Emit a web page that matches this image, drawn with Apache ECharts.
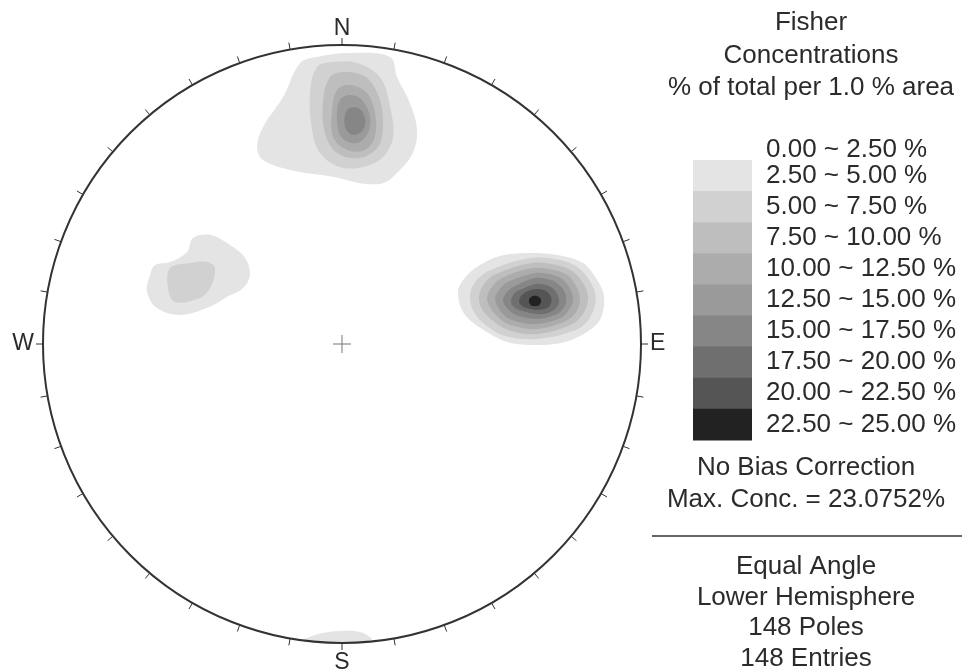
<!DOCTYPE html>
<html>
<head>
<meta charset="utf-8">
<script src="https://cdn.jsdelivr.net/npm/echarts@6/dist/echarts.min.js"></script>
<style>
  html, body { margin: 0; padding: 0; background: #ffffff; }
  #chart { width: 962px; height: 670px; }
</style>
</head>
<body>
<div id="chart"></div>
<script>
// Contour classes: % of total per 1.0 % area
const levelLabels = [
  '0.00 ~ 2.50 %', '2.50 ~ 5.00 %', '5.00 ~ 7.50 %', '7.50 ~ 10.00 %',
  '10.00 ~ 12.50 %', '12.50 ~ 15.00 %', '15.00 ~ 17.50 %', '17.50 ~ 20.00 %',
  '20.00 ~ 22.50 %', '22.50 ~ 25.00 %'
];
const levelColors = [
  '#ffffff', '#e4e4e4', '#d1d1d1', '#bebebe', '#acacac',
  '#9a9a9a', '#868686', '#6f6f6f', '#555555', '#222222'
];

// Compass labels on the primitive circle (azimuth in degrees)
const compassLabels = { 0: 'N', 90: 'E', 180: 'S', 270: 'W' };

// Contoured pole concentrations, stereonet units (x east, y north, primitive radius = 1)
const northCluster = [
  { level: 1, pts: [[-0.140,0.940],[-0.197,0.826],[-0.264,0.726],[-0.284,0.659],[-0.264,0.615],[-0.174,0.582],[-0.030,0.559],[0.060,0.538],[0.137,0.538],[0.184,0.572],[0.237,0.639],[0.251,0.716],[0.227,0.806],[0.184,0.893],[0.161,0.960],[0.027,0.973],[-0.084,0.960]] },
  { level: 2, pts: [[-0.084,0.926],[-0.107,0.839],[-0.100,0.716],[-0.074,0.639],[-0.007,0.592],[0.070,0.592],[0.137,0.625],[0.171,0.692],[0.161,0.793],[0.127,0.893],[0.050,0.940],[-0.030,0.943]] },
  { level: 3, pts: [[-0.040,0.893],[-0.064,0.806],[-0.057,0.706],[-0.017,0.639],[0.060,0.622],[0.120,0.659],[0.137,0.726],[0.127,0.816],[0.084,0.890],[0.017,0.910]] },
  { level: 4, pts: [[-0.017,0.849],[-0.033,0.783],[-0.030,0.692],[0.017,0.649],[0.077,0.649],[0.110,0.692],[0.110,0.773],[0.084,0.839],[0.027,0.866]] },
  { level: 5, pts: [[-0.007,0.816],[-0.017,0.749],[0.000,0.689],[0.050,0.672],[0.087,0.706],[0.094,0.759],[0.067,0.816],[0.027,0.833]] },
  { level: 6, pts: [[0.017,0.783],[0.010,0.726],[0.037,0.699],[0.070,0.716],[0.077,0.756],[0.054,0.789]] }
];

const westCluster = [
  { level: 1, pts: [[-0.642,0.231],[-0.652,0.174],[-0.619,0.120],[-0.542,0.097],[-0.452,0.120],[-0.385,0.157],[-0.331,0.187],[-0.308,0.231],[-0.324,0.288],[-0.375,0.331],[-0.441,0.365],[-0.498,0.355],[-0.518,0.308],[-0.575,0.274],[-0.625,0.264]] },
  { level: 2, pts: [[-0.575,0.254],[-0.582,0.187],[-0.559,0.140],[-0.475,0.154],[-0.441,0.187],[-0.425,0.254],[-0.452,0.274],[-0.508,0.271]] }
];

const eastCluster = [
  { level: 1, pts: [[0.388,0.174],[0.405,0.214],[0.452,0.258],[0.528,0.294],[0.619,0.304],[0.719,0.298],[0.806,0.271],[0.853,0.214],[0.876,0.161],[0.866,0.087],[0.823,0.043],[0.746,0.007],[0.652,-0.003],[0.552,0.007],[0.462,0.054],[0.405,0.107]] },
  { level: 2, pts: [[0.428,0.164],[0.448,0.211],[0.495,0.247],[0.629,0.288],[0.729,0.281],[0.786,0.258],[0.829,0.211],[0.849,0.154],[0.829,0.087],[0.783,0.047],[0.652,0.017],[0.545,0.027],[0.485,0.060],[0.441,0.107]] },
  { level: 3, pts: [[0.458,0.157],[0.475,0.201],[0.515,0.234],[0.635,0.271],[0.716,0.264],[0.769,0.244],[0.806,0.204],[0.823,0.154],[0.806,0.100],[0.766,0.064],[0.652,0.033],[0.555,0.047],[0.502,0.080],[0.468,0.117]] },
  { level: 4, pts: [[0.485,0.154],[0.502,0.191],[0.535,0.221],[0.639,0.254],[0.712,0.247],[0.753,0.231],[0.783,0.194],[0.796,0.151],[0.783,0.107],[0.749,0.077],[0.652,0.050],[0.562,0.064],[0.518,0.094],[0.495,0.124]] },
  { level: 5, pts: [[0.512,0.151],[0.528,0.184],[0.555,0.207],[0.642,0.237],[0.706,0.231],[0.736,0.217],[0.763,0.184],[0.773,0.147],[0.759,0.114],[0.732,0.087],[0.652,0.067],[0.569,0.080],[0.532,0.107]] },
  { level: 6, pts: [[0.538,0.147],[0.555,0.177],[0.579,0.194],[0.645,0.221],[0.699,0.214],[0.726,0.197],[0.746,0.171],[0.749,0.140],[0.736,0.114],[0.712,0.097],[0.652,0.084],[0.582,0.097],[0.552,0.120]] },
  { level: 7, pts: [[0.565,0.144],[0.579,0.171],[0.602,0.184],[0.649,0.201],[0.692,0.194],[0.716,0.174],[0.726,0.140],[0.712,0.117],[0.689,0.104],[0.652,0.100],[0.605,0.110],[0.575,0.124]] },
  { level: 8, pts: [[0.592,0.144],[0.602,0.164],[0.622,0.177],[0.652,0.184],[0.682,0.177],[0.699,0.157],[0.699,0.137],[0.686,0.120],[0.652,0.114],[0.619,0.120],[0.599,0.130]] },
  { level: 9, pts: [[0.625,0.144],[0.632,0.157],[0.645,0.161],[0.659,0.157],[0.666,0.144],[0.659,0.130],[0.645,0.127],[0.632,0.130]] }
];

const southCluster = [
  { level: 1, pts: [[-0.130,-0.993],[-0.080,-0.970],[-0.007,-0.960],[0.060,-0.963],[0.100,-0.987],[0.060,-0.997],[0.000,-1.000],[-0.067,-0.997]] }
];

// Text blocks beside the net
const titleLines = ['Fisher', 'Concentrations', '% of total per 1.0 % area'];
const noteLines = ['No Bias Correction', 'Max. Conc. = 23.0752%'];
const projectionLines = ['Equal Angle', 'Lower Hemisphere', '148 Poles', '148 Entries'];

const FONT = '"Liberation Sans", Arial, Helvetica, sans-serif';
const TEXT_COLOR = '#2b2b2b';
const FONT_SIZE = 26;

// Draw lower classes first so higher ones sit on top
const contours = [].concat(northCluster, westCluster, eastCluster, southCluster)
  .sort((a, b) => a.level - b.level);

const chart = echarts.init(document.getElementById('chart'), null, { renderer: 'canvas' });

function textEl(text, x, y, align) {
  return {
    type: 'text', x: x, y: y, silent: true,
    style: {
      text: text, fill: TEXT_COLOR, font: FONT_SIZE + 'px ' + FONT,
      textAlign: align || 'center', textVerticalAlign: 'middle'
    }
  };
}

const graphics = [];
titleLines.forEach((t, i) => graphics.push(textEl(t, 811, 23 + i * 32.5)));
// Legend swatches (the first class is white, so only its label shows)
const swTop = 160, swH = 31.1;
levelLabels.forEach((lab, i) => {
  if (i > 0) {
    graphics.push({
      type: 'rect', silent: true,
      shape: { x: 693, y: swTop + (i - 1) * swH, width: 59, height: swH + 0.6 },
      style: { fill: levelColors[i] }
    });
    graphics.push(textEl(lab, 766, swTop + (i - 1) * swH + swH / 2, 'left'));
  } else {
    graphics.push(textEl(lab, 766, 150, 'left'));
  }
});
noteLines.forEach((t, i) => graphics.push(textEl(t, 806, 468 + i * 32)));
graphics.push({
  type: 'line', silent: true,
  shape: { x1: 652, y1: 536, x2: 962, y2: 536 },
  style: { stroke: '#333333', lineWidth: 1.5 }
});
projectionLines.forEach((t, i) => graphics.push(textEl(t, 806, 567 + i * 30.5)));

chart.setOption({
  animation: false,
  backgroundColor: '#ffffff',
  polar: { center: [342, 344], radius: 299 },
  angleAxis: {
    type: 'value', min: 0, max: 360, interval: 10,
    startAngle: 90, clockwise: true, z: 5,
    axisLine: { lineStyle: { color: '#333333', width: 2 } },
    axisTick: { length: 7, lineStyle: { color: '#333333', width: 1 } },
    axisLabel: {
      margin: 9, fontSize: 23, lineHeight: 14, color: TEXT_COLOR, fontFamily: FONT,
      formatter: v => compassLabels[v] ? '{' + (v === 180 ? 's' : 'c') + '|' + compassLabels[v] + '}' : '',
      rich: {
        c: { fontSize: 23, lineHeight: 14, color: TEXT_COLOR, fontFamily: FONT },
        s: { fontSize: 23, lineHeight: 22, color: TEXT_COLOR, fontFamily: FONT }
      }
    },
    splitLine: { show: false }
  },
  radiusAxis: { type: 'value', min: 0, max: 1, show: false },
  grid: { left: 43, top: 45, width: 598, height: 598, show: false },
  xAxis: { type: 'value', min: -1, max: 1, show: false },
  yAxis: { type: 'value', min: -1, max: 1, show: false },
  graphic: graphics,
  series: [
    {
      type: 'custom', name: 'contours', coordinateSystem: 'cartesian2d', z: 1,
      silent: true,
      data: contours.map((c, i) => [i]),
      renderItem: function (params, api) {
        const c = contours[params.dataIndex];
        return {
          type: 'polygon',
          shape: { points: c.pts.map(p => api.coord(p)), smooth: 0.35 },
          style: { fill: levelColors[c.level], stroke: null }
        };
      }
    },
    {
      type: 'custom', name: 'centre', coordinateSystem: 'cartesian2d', z: 3,
      silent: true,
      data: [[0, 0]],
      renderItem: function (params, api) {
        const p = api.coord([api.value(0), api.value(1)]);
        const arm = 9;
        const st = { stroke: '#8a8a8a', lineWidth: 1.2 };
        return {
          type: 'group',
          children: [
            { type: 'line', shape: { x1: p[0] - arm, y1: p[1], x2: p[0] + arm, y2: p[1] }, style: st },
            { type: 'line', shape: { x1: p[0], y1: p[1] - arm, x2: p[0], y2: p[1] + arm }, style: st }
          ]
        };
      }
    }
  ]
});
</script>
</body>
</html>
